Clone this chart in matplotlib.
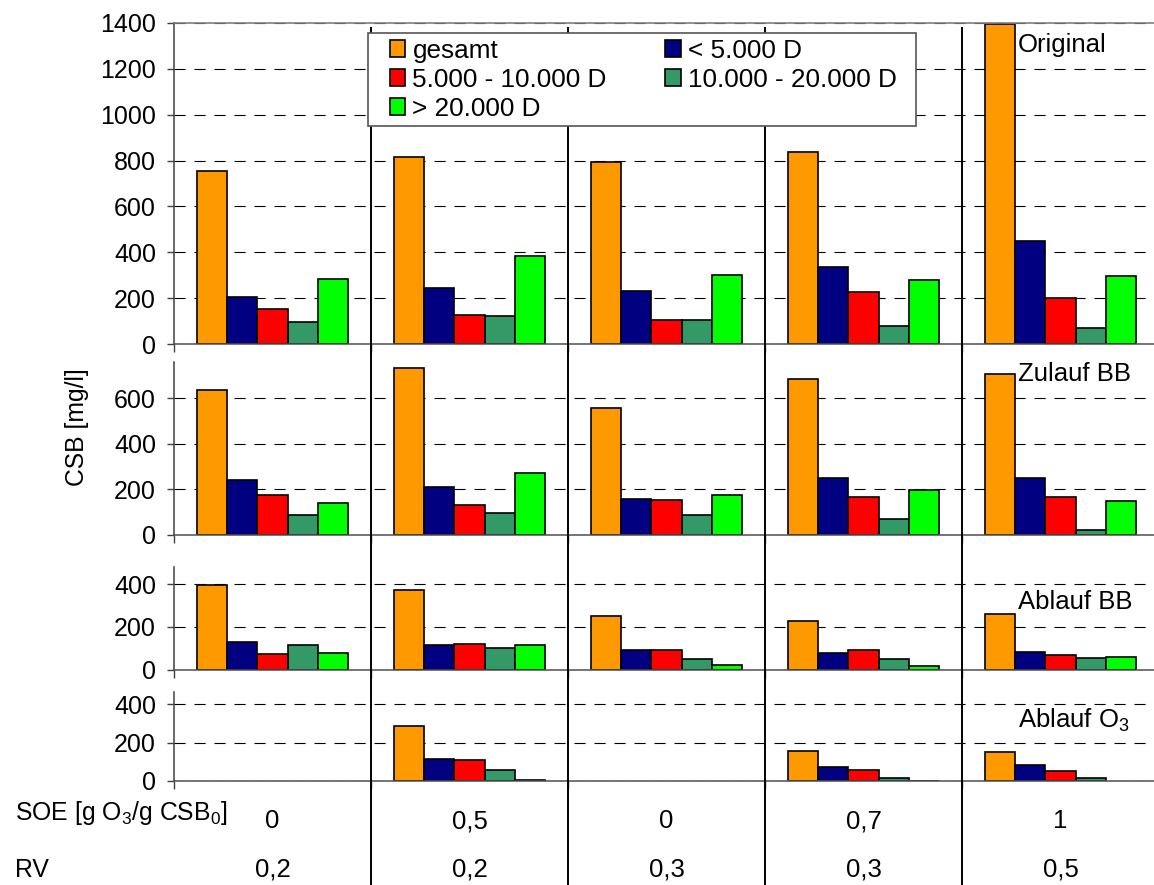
import numpy as np
import matplotlib
matplotlib.use('Agg')
import matplotlib.pyplot as plt
from matplotlib.patches import Patch, Rectangle
from matplotlib import transforms

plt.rcParams['font.family'] = ['Liberation Sans', 'DejaVu Sans']

# ---- data (CSB in mg/l, 5 experiments) ----
SERIES = ['gesamt', '< 5.000 D', '5.000 - 10.000 D', '10.000 - 20.000 D', '> 20.000 D']
COLORS = ['#FF9900', '#000080', '#FF0000', '#339966', '#00FF00']
SOE = ['0', '0,5', '0', '0,7', '1']
RV = ['0,2', '0,2', '0,3', '0,3', '0,5']

nan = np.nan
ORIGINAL = [
    [755, 815, 795, 837, 1397],
    [206, 245, 231, 337, 450],
    [151, 125, 106, 227, 202],
    [97, 122, 105, 77, 70],
    [282, 382, 302, 279, 297],
]
ZULAUF_BB = [
    [637, 732, 558, 684, 707],
    [241, 209, 156, 250, 247],
    [176, 132, 151, 166, 166],
    [86, 93, 88, 69, 19],
    [138, 270, 176, 194, 148],
]
ABLAUF_BB = [
    [398, 370, 252, 226, 260],
    [128, 116, 92, 75, 83],
    [73, 119, 92, 92, 66],
    [113, 102, 47, 48, 55],
    [78, 114, 22, 17, 59],
]
ABLAUF_O3 = [
    [nan, 285, nan, 158, 150],
    [nan, 116, nan, 75, 83],
    [nan, 111, nan, 59, 50],
    [nan, 56, nan, 17, 17],
    [nan, 3, nan, 2, nan],
]

W, H = 1154, 885
X_LEFT, X_RIGHT = 174, 1159

fig = plt.figure(figsize=(W / 100, H / 100), dpi=100, facecolor='white')


def add_px_axes(top, bottom):
    return fig.add_axes([X_LEFT / W, 1 - bottom / H, (X_RIGHT - X_LEFT) / W, (bottom - top) / H])


panels = [
    # (data, label, top px, bottom px, ymax, ticks, label baseline px)
    (ORIGINAL, 'Original', 23, 344, 1400, np.arange(0, 1401, 200), 52),
    (ZULAUF_BB, 'Zulauf BB', 362, 534.5, 760, np.arange(0, 601, 200), 381),
    (ABLAUF_BB, 'Ablauf BB', 567, 669.5, 480, np.arange(0, 401, 200), 609),
    (ABLAUF_O3, r'Ablauf O$_{\mathregular{3}}$', 692, 781, 465, np.arange(0, 401, 200), 728),
]

x = np.arange(len(SOE))
bw = 0.153

for i, (data, label, top, bottom, ymax, ticks, lab_y) in enumerate(panels):
    ax = add_px_axes(top, bottom)
    for s, (vals, col) in enumerate(zip(data, COLORS)):
        ax.bar(x + (s - 2) * bw, vals, width=bw, color=col, edgecolor='black', linewidth=1.2, zorder=2)
    ax.set_xlim(-0.5, len(SOE) - 0.5)
    ax.set_ylim(0, ymax)
    ax.set_yticks(ticks)
    ax.set_xticks(np.arange(-0.5, len(SOE), 1.0))
    ax.set_xticklabels([])
    ax.tick_params(axis='y', direction='out', length=5, width=1, color='#404040', pad=8, labelsize=18)
    ax.tick_params(axis='x', direction='out', length=6, width=1, color='#404040')
    ax.set_axisbelow(True)
    ax.grid(axis='y', color='black', linestyle=(0, (10, 8)), linewidth=0.8)
    ax.grid(axis='x', visible=False)
    ax.spines['right'].set_visible(False)
    ax.spines['left'].set_color('#404040')
    ax.spines['left'].set_linewidth(1.1)
    ax.spines['bottom'].set_color('#505050')
    ax.spines['bottom'].set_linewidth(1.1)
    if i == 0:
        ax.spines['top'].set_color('#808080')
        ax.spines['top'].set_linewidth(1.2)
    else:
        ax.spines['top'].set_visible(False)
    ax.patch.set_visible(False)
    fig.text(1018 / W, 1 - lab_y / H, label, fontsize=18.5, ha='left', va='baseline')

# overlay for group separators and bottom rows
ov = fig.add_axes([X_LEFT / W, 0, (X_RIGHT - X_LEFT) / W, 1 - 27 / H])
ov.set_xlim(-0.5, len(SOE) - 0.5)
ov.set_ylim(0, 1)
ov.axis('off')
ov.patch.set_visible(False)
ov.vlines(x[:-1] + 0.5, 0, 1, color='black', linewidth=1.4)

trans = transforms.blended_transform_factory(ov.transData, fig.transFigure)
for xi, (s, r) in enumerate(zip(SOE, RV)):
    fig.text(xi, 1 - 828 / H, s, transform=trans, fontsize=18.5, ha='center', va='baseline')
    fig.text(xi, 1 - 877 / H, r, transform=trans, fontsize=18.5, ha='center', va='baseline')

fig.text(15 / W, 1 - 820 / H, r'SOE [g O$_{\mathregular{3}}$/g CSB$_{\mathregular{0}}$]',
         fontsize=17.8, ha='left', va='baseline')
fig.text(15 / W, 1 - 877 / H, 'RV', fontsize=17.8, ha='left', va='baseline')
fig.text(77 / W, 1 - 427 / H, 'CSB [mg/l]', fontsize=17.8, rotation=90, ha='center', va='center')

# legend box
fig.add_artist(Rectangle((368 / W, 1 - 126 / H), 548 / W, 93 / H, transform=fig.transFigure,
                         facecolor='white', edgecolor='#555555', linewidth=1.2, zorder=5))
order = [0, 2, 4, 1, 3]
handles = [Patch(facecolor=COLORS[k], edgecolor='black', linewidth=1.2) for k in order]
leg = fig.legend(handles, [SERIES[k] for k in order], loc='upper left', ncol=2,
                 bbox_to_anchor=(390 / W, 1 - 39 / H), bbox_transform=fig.transFigure,
                 frameon=False, fontsize=18.8, borderpad=0, borderaxespad=0,
                 handlelength=0.59, handleheight=0.64, handletextpad=0.27,
                 labelspacing=0.19, columnspacing=2.24)
leg.set_zorder(6)

fig.savefig('out.png', dpi=100, facecolor='white')
